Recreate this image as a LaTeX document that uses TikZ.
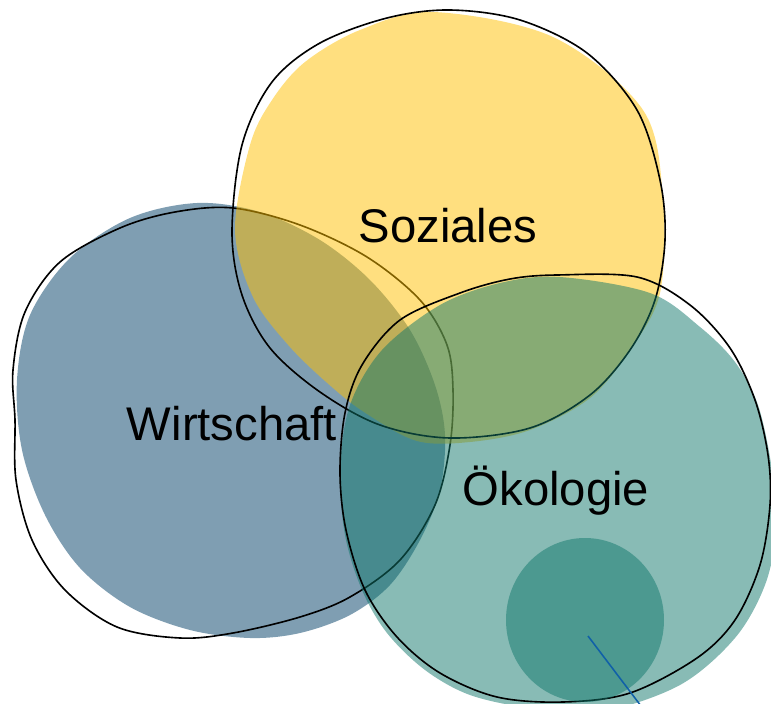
\documentclass[tikz,border=0pt]{standalone}
\usepackage{fontspec}
\setmainfont{Liberation Sans}
\definecolor{wblue}{RGB}{0,62,102}
\definecolor{syellow}{RGB}{255,192,0}
\definecolor{ogreen}{RGB}{17,119,107}
\definecolor{pinline}{RGB}{16,96,168}

\begin{document}
\begin{tikzpicture}[x=0.025cm,y=-0.025cm]
\useasboundingbox (0,0) rectangle (771,704);
\clip (0,0) rectangle (771,704);
\tikzset{blob/.style={fill opacity=0.5},
  rim/.style={draw=black,line width=1.15pt},
  label/.style={font=\fontsize{33.6}{40}\selectfont,anchor=base}}
% Wirtschaft
\fill[wblue,blob] plot[smooth cycle,tension=0.55] coordinates {(197,203) (260,212)
  (320,240) (370,280) (410,330) (435,385) (445,435) (440,490) (420,540) (390,585)
  (350,615) (300,633) (250,638) (190,630) (130,607) (80,568) (45,515) (22,450)
  (17,380) (30,315) (70,258) (130,218)};
\draw[rim] plot[smooth cycle,tension=0.55] coordinates {(233,208) (300,225) (367,257)
  (420,300) (447,345) (453,390) (450,445) (435,505) (400,560) (350,597) (300,617)
  (233,633) (180,638) (117,627) (65,590) (32,540) (16,480) (15,420) (13,370)
  (25,312) (60,262) (120,228) (175,212)};
% Soziales
\fill[syellow,blob] plot[smooth cycle,tension=0.55] coordinates {(433,12) (553,37)
  (643,110) (663,200) (660,293) (630,350) (590,398) (530,430) (470,442) (417,441)
  (367,414) (333,388) (290,347) (253,297) (235,230) (250,145) (272,100) (305,62)
  (360,30)};
\draw[rim] plot[smooth cycle,tension=0.55] coordinates {(450,10) (520,20) (587,53)
  (637,110) (660,180) (665,240) (655,300) (630,350) (590,395) (530,428) (450,438)
  (380,425) (320,392) (270,348) (242,295) (232,232) (242,145) (272,82) (320,43)
  (387,18)};
% Oekologie
\fill[ogreen,blob] plot[smooth cycle,tension=0.55] coordinates {(560,277) (650,293)
  (700,327) (735,362) (758,405) (772,470) (776,530) (765,585) (735,638) (680,685)
  (600,712) (530,708) (470,695) (425,670) (387,633) (362,590) (345,535) (340,470)
  (350,405) (382,350) (440,305) (500,283)};
\draw[rim] plot[smooth cycle,tension=0.55] coordinates {(557,275) (637,277) (690,305)
  (730,348) (755,400) (768,455) (770,505) (760,565) (735,620) (697,658) (630,693)
  (563,702) (497,697) (440,673) (397,637) (365,590) (346,530) (340,473) (345,413)
  (362,365) (400,320) (460,293) (510,279)};
\fill[ogreen,blob] (585,620) ellipse [x radius=79,y radius=82];
\coordinate (kern) at (588,636);
\coordinate (aus) at (641,706);
\draw[pinline,line width=1.1pt] (kern) -- (aus);
\node[label] (soz) at (448,242) {Soziales};
\node[label] (wir) at (232,440) {Wirtschaft};
\node[label] (oek) at (556,505) {Ökologie};
\end{tikzpicture}
\end{document}
